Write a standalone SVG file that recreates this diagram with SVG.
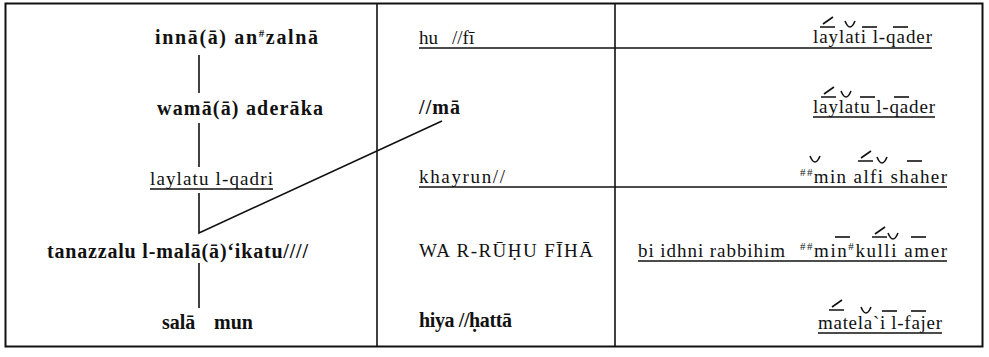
<svg xmlns="http://www.w3.org/2000/svg" width="989" height="357" viewBox="0 0 989 357">
<style>
.t{font-family:"Liberation Serif","Times New Roman",serif;font-size:19px;fill:#111}
.b{font-weight:bold;font-size:20px}
.sup{font-size:11px}
.ln{stroke:#111;stroke-width:1.6;fill:none}
.ul{stroke:#111;stroke-width:1.3;fill:none}
.mk{stroke:#111;stroke-width:1.6;fill:none}
</style>
<defs>
<path id="mac" d="M0,0 H15"/>
<path id="acm" d="M0,0 H15 M3,-3 L13,-10"/>
<path id="brv" d="M0,-7 Q5,5 10,-7"/>
</defs>
<g id="frame">
<rect x="5.5" y="3.5" width="977" height="343" fill="none" stroke="#111" stroke-width="2"/>
<line class="ln" x1="377" y1="3.5" x2="377" y2="346.5"/>
<line class="ln" x1="615" y1="3.5" x2="615" y2="346.5"/>
</g>
<g id="connectors">
<line class="ln" x1="199" y1="55" x2="199" y2="93"/>
<line class="ln" x1="199" y1="123" x2="199" y2="167"/>
<polyline class="ln" points="199,193 199,233 442,121"/>
<line class="ln" x1="199" y1="263" x2="199" y2="308"/>
<line class="ul" x1="419" y1="48" x2="813" y2="48"/>
<line class="ul" x1="419" y1="187" x2="947" y2="187"/>
</g>
<g id="left-1"><text class="t b" x="155" y="44" textLength="163" lengthAdjust="spacing">innā(ā) an<tspan class="sup" dy="-7">#</tspan><tspan dy="7">zalnā</tspan></text></g>
<g id="left-2"><text class="t b" x="157" y="115" textLength="166" lengthAdjust="spacing">wamā(ā) aderāka</text></g>
<g id="left-3"><text class="t" x="150" y="185" textLength="123" lengthAdjust="spacing">laylatu l-qadri</text><line class="ul" x1="150" y1="189" x2="273" y2="189"/></g>
<g id="left-4"><text class="t b" x="47" y="258" textLength="261" lengthAdjust="spacing">tanazzalu l-malā(ā)‘ikatu////</text></g>
<g id="left-5"><text class="t b" x="162" y="329">salā <tspan x="214">mun</tspan></text></g>
<g id="mid-1"><text class="t" x="419" y="44">hu <tspan x="452">//fī</tspan></text></g>
<g id="mid-2"><text class="t b" x="419" y="114" textLength="41" lengthAdjust="spacing">//mā</text></g>
<g id="mid-3"><text class="t" x="419" y="183" textLength="86" lengthAdjust="spacing">khayrun//</text></g>
<g id="mid-4"><text class="t" x="419" y="257" textLength="174" lengthAdjust="spacing">WA R-RŪḤU FĪHĀ</text></g>
<g id="mid-5"><text class="t b" x="419" y="327" textLength="93" lengthAdjust="spacing">hiya //ḥattā</text></g>
<g id="right-1"><text class="t" x="813" y="43" textLength="119" lengthAdjust="spacing">laylati l-qader</text><line class="ul" x1="813" y1="48" x2="932" y2="48"/>
<g class="mk"><use href="#acm" x="820" y="27"/><use href="#brv" x="845" y="28"/><use href="#mac" x="862" y="27"/><use href="#mac" x="893" y="27"/></g></g>
<g id="right-2"><text class="t" x="813" y="113" textLength="122" lengthAdjust="spacing">laylatu l-qader</text><line class="ul" x1="813" y1="117" x2="935" y2="117"/>
<g class="mk"><use href="#acm" x="821" y="97"/><use href="#brv" x="841" y="98"/><use href="#mac" x="860" y="97"/><use href="#mac" x="894" y="97"/></g></g>
<g id="right-3"><text class="t" x="800" y="183" textLength="147" lengthAdjust="spacing"><tspan class="sup" dy="-7">##</tspan><tspan dy="7">min alfi shaher</tspan></text>
<g class="mk"><use href="#brv" x="810" y="163"/><use href="#acm" x="858" y="161"/><use href="#brv" x="877" y="164"/><use href="#mac" x="907" y="161"/></g></g>
<g id="right-4"><text class="t" x="638" y="257" textLength="147" lengthAdjust="spacing">bi idhni rabbihim</text><text class="t" x="800" y="257" textLength="147" lengthAdjust="spacing"><tspan class="sup" dy="-7">##</tspan><tspan dy="7">min</tspan><tspan class="sup" dy="-7">#</tspan><tspan dy="7">kulli amer</tspan></text><line class="ul" x1="638" y1="261" x2="947" y2="261"/>
<g class="mk"><use href="#mac" x="835" y="237"/><use href="#acm" x="872" y="237"/><use href="#brv" x="888" y="240"/><use href="#mac" x="911" y="237"/></g></g>
<g id="right-5"><text class="t" x="818" y="329" textLength="124" lengthAdjust="spacing">matela`i l-fajer</text><line class="ul" x1="818" y1="333" x2="942" y2="333"/>
<g class="mk"><use href="#acm" x="829" y="310"/><use href="#brv" x="861" y="314"/><use href="#mac" x="882" y="311"/><use href="#mac" x="911" y="311"/></g></g>
</svg>
